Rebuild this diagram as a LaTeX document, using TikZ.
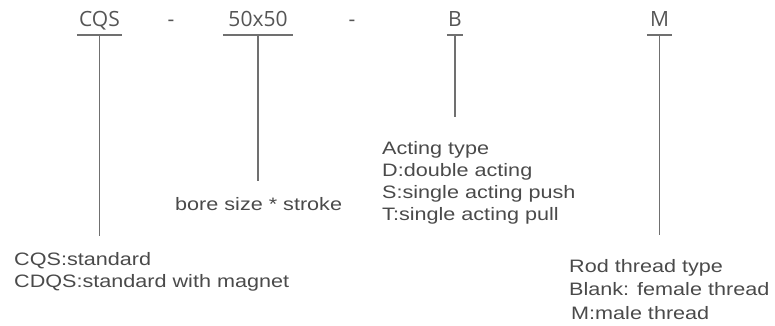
\documentclass[tikz,border=0pt]{standalone}
\usepackage{fontspec}
\newfontfamily\codefont{Open Sans}
\newfontfamily\descfont[FakeStretch=1.2]{Liberation Sans}
\definecolor{txt}{HTML}{4A4A4A}
\definecolor{codetxt}{HTML}{555555}
\definecolor{ln}{HTML}{707070}
\begin{document}
\begin{tikzpicture}[x=1pt,y=-1pt,
  code/.style={font=\codefont\fontsize{21}{25}\selectfont, text=codetxt, inner xsep=0pt, inner ysep=0pt,
     anchor=base, text height=15pt, text depth=8pt},
  dashmark/.style={font=\codefont\fontsize{21}{25}\selectfont, text=codetxt, inner sep=0pt, anchor=base},
  desc/.style={font=\descfont\fontsize{18}{22}\selectfont, text=txt, inner sep=0pt, anchor=base west, align=left},
  uline/.style={draw=ln, line width=1.5pt},
  leader/.style={draw=ln, line width=1.6pt}]
\useasboundingbox (0,0) rectangle (775,326);

% code letters
\node[code, minimum width=45pt] (cqs) at (99.5,27) {CQS};
\node[dashmark] (d1) at (171,27) {-};
\node[code, minimum width=70pt] (size) at (258,27) {50x50};
\node[dashmark] (d2) at (352,27) {-};
\node[code, minimum width=16pt] (act) at (455,27) {B};
\node[code, minimum width=25pt] (rod) at (659.5,27) {M};

% underlines
\draw[uline] (cqs.south west) -- (cqs.south east);
\draw[uline] (size.south west) -- (size.south east);
\draw[uline] (act.south west) -- (act.south east);
\draw[uline] (rod.south west) -- (rod.south east);

% leader ends
\coordinate (cqsend) at (cqs.south |- 0,236);
\coordinate (sizeend) at (size.south |- 0,181);
\coordinate (actend) at (act.south |- 0,117);
\coordinate (rodend) at (rod.south |- 0,235);

\draw[leader] (cqs.south) -- (cqsend);
\draw[leader] (size.south) -- (sizeend);
\draw[leader] (act.south) -- (actend);
\draw[leader] (rod.south) -- (rodend);

% descriptions (base anchor = baseline of last line)
\node[desc] (cqsdesc) at (14,287) {CQS:standard\\CDQS:standard with magnet};
\node[desc] (sizedesc) at (175,210) {bore size * stroke};
\node[desc, font=\descfont\fontsize{18}{21.7}\selectfont] (actdesc) at (382,220) {Acting type\\D:double acting\\S:single acting push\\T:single acting pull};
\node[desc, font=\descfont\fontsize{18}{23.2}\selectfont] (roddesc) at (569,319) {Rod thread type\\Blank: female thread\\\hspace*{2pt}M:male thread};
\end{tikzpicture}
\end{document}
